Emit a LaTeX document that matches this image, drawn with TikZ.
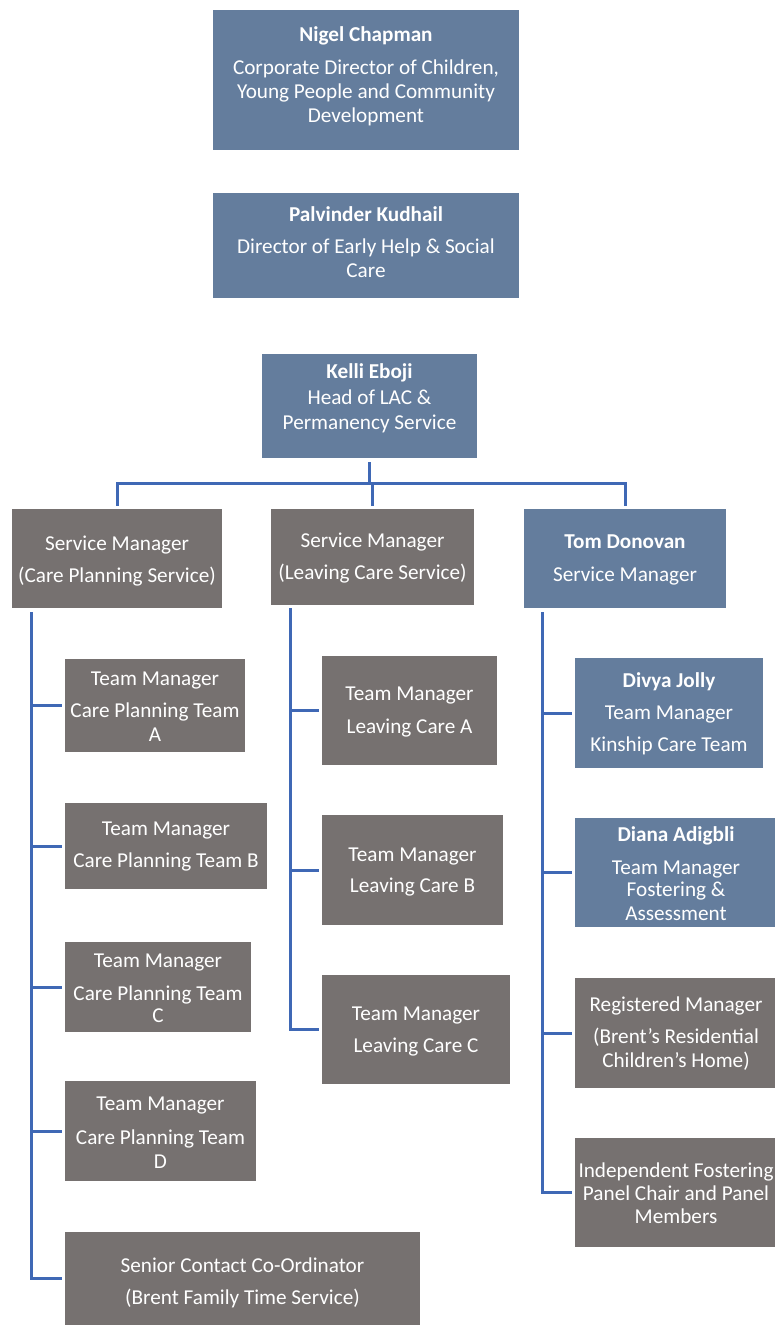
\documentclass[tikz,border=0pt]{standalone}
\usepackage{fontspec}
\setmainfont{Carlito}
\usetikzlibrary{fit}
\definecolor{bluebox}{RGB}{100,125,157}
\definecolor{greybox}{RGB}{118,113,112}
\definecolor{connblue}{RGB}{63,104,181}
\begin{document}
\begin{tikzpicture}[x=1pt,y=-1pt,
  bbox/.style={fill=bluebox, inner sep=0pt, draw=none},
  gbox/.style={fill=greybox, inner sep=0pt, draw=none},
  txt/.style={text=white, align=center, inner sep=0pt, yshift=-1.5pt, font=\fontsize{21.2}{24}\selectfont},
  link/.style={draw=connblue, line width=3pt}]
\useasboundingbox (0,0) rectangle (775,1325);

% boxes
\node[bbox, fit={(213,10) (519,150)}] (nigel) {};
\node[bbox, fit={(213,193) (519,298)}] (palv) {};
\node[bbox, fit={(262,354) (477,458)}] (kelli) {};
\node[gbox, fit={(12,509) (222,608)}] (sm1) {};
\node[gbox, fit={(271,509) (474,605)}] (sm2) {};
\node[bbox, fit={(524,509) (726,608)}] (tom) {};
\node[gbox, fit={(65,659) (245,752)}] (ta) {};
\node[gbox, fit={(65,803) (267,889)}] (tb) {};
\node[gbox, fit={(65,942) (251,1032)}] (tc) {};
\node[gbox, fit={(65,1081) (256,1181)}] (td) {};
\node[gbox, fit={(65,1232) (420,1325)}] (sc) {};
\node[gbox, fit={(322,656) (497,765)}] (la) {};
\node[gbox, fit={(322,815) (503,925)}] (lb) {};
\node[gbox, fit={(322,975) (510,1084)}] (lc) {};
\node[bbox, fit={(575,658) (763,768)}] (dj) {};
\node[bbox, fit={(575,818) (775,927)}] (da) {};
\node[gbox, fit={(575,978) (775,1088)}] (rm) {};
\node[gbox, fit={(575,1138) (775,1247)}] (ifp) {};

% texts
\node[txt] (nigel-t) at (366,75) {\textbf{Nigel Chapman}\\[9pt]Corporate Director of Children,\\Young People and Community\\Development};
\node[txt] (palv-t) at (366,241) {\textbf{Palvinder Kudhail}\\[8pt]Director of Early Help \& Social\\Care};
\node[txt] (kelli-t) at (369.5,396.5) {\textbf{Kelli Eboji}\\[2pt]Head of LAC \&\\[1pt]Permanency Service};
\node[txt] (sm1-t) at (117,560) {Service Manager\\[8pt](Care Planning Service)};
\node[txt] (sm2-t) at (372.5,557) {Service Manager\\[8pt](Leaving Care Service)};
\node[txt] (tom-t) at (625,558.5) {\textbf{Tom Donovan}\\[9pt]Service Manager};
\node[txt] (ta-t) at (155,705) {Team Manager\\[8pt]Care Planning Team\\A};
\node[txt] (tb-t) at (166,845) {Team Manager\\[8pt]Care Planning Team B};
\node[txt] (tc-t) at (158,986.5) {Team Manager\\[9pt]Care Planning Team\\[-2pt]C};
\node[txt] (td-t) at (160.5,1131) {Team Manager\\[10pt]Care Planning Team\\D};
\node[txt] (sc-t) at (242.5,1281) {Senior Contact Co-Ordinator\\[8pt](Brent Family Time Service)};
\node[txt] (la-t) at (409.5,710.5) {Team Manager\\[9pt]Leaving Care A};
\node[txt] (lb-t) at (412.5,870.5) {Team Manager\\[7pt]Leaving Care B};
\node[txt] (lc-t) at (416,1030) {Team Manager\\[8pt]Leaving Care C};
\node[txt] (dj-t) at (669,712.5) {\textbf{Divya Jolly}\\[8pt]Team Manager\\[8pt]Kinship Care Team};
\node[txt] (da-t) at (676,872.5) {\textbf{Diana Adigbli}\\[9pt]Team Manager\\[-2pt]Fostering \&\\Assessment};
\node[txt] (rm-t) at (676,1032) {Registered Manager\\[8pt](Brent’s Residential\\Children’s Home)};
\node[txt] (ifp-t) at (676,1191.5) {Independent Fostering\\[-1pt]Panel Chair and Panel\\[-1pt]Members};

% connectors
\coordinate (hb) at (369.5,483);
\draw[link] ([yshift=-4pt]kelli.south) -- (hb);
\draw[link] ([yshift=3pt]sm1.north) |- (hb) -| ([yshift=3pt]tom.north);
\draw[link] ([yshift=3pt]sm2.north) -- (sm2.north |- hb);

\coordinate (t1) at ([shift={(20pt,-4pt)}]sm1.south west);
\coordinate (t2) at ([shift={(20pt,-3pt)}]sm2.south west);
\coordinate (t3) at ([shift={(19pt,-4pt)}]tom.south west);
\foreach \n in {ta,tb,tc,td,sc} \draw[link] (t1) |- ([xshift=-3pt]\n.west);
\foreach \n in {la,lb,lc} \draw[link] (t2) |- ([xshift=-3pt]\n.west);
\foreach \n in {dj,da,rm,ifp} \draw[link] (t3) |- ([xshift=-3pt]\n.west);
\end{tikzpicture}
\end{document}
